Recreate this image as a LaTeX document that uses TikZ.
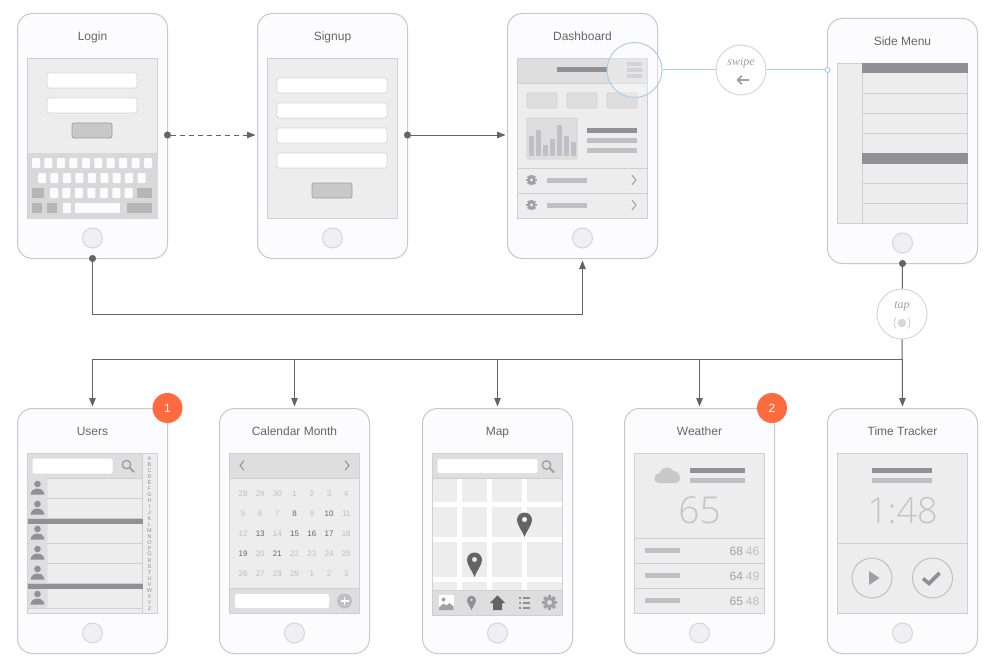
\documentclass[tikz,border=0pt]{standalone}
\usepackage{fontspec}
\usepackage{xcolor}
\usepackage{tikz}
\usetikzlibrary{arrows.meta}
\setmainfont{Liberation Sans}
\newfontfamily\notefont{Liberation Serif}
\newfontfamily\thinfont[UprightFont=* Light]{Open Sans}
\definecolor{phoneFill}{RGB}{252,252,254}
\definecolor{phoneLine}{RGB}{200,200,200}
\definecolor{homeFill}{RGB}{240,240,242}
\definecolor{homeLine}{RGB}{214,214,214}
\definecolor{screenFill}{RGB}{237,237,237}
\definecolor{screenLine}{RGB}{207,207,207}
\definecolor{headFill}{RGB}{222,222,222}
\definecolor{keyFill}{RGB}{216,216,216}
\definecolor{keyDark}{RGB}{182,182,182}
\definecolor{barDark}{RGB}{144,144,149}
\definecolor{barLight}{RGB}{192,192,196}
\definecolor{iconGray}{RGB}{160,160,164}
\definecolor{titleGray}{RGB}{102,102,102}
\definecolor{flowGray}{RGB}{100,100,100}
\definecolor{swipeBlue}{RGB}{172,205,230}
\definecolor{badgeOrange}{RGB}{255,107,63}
\definecolor{dayLight}{RGB}{190,190,190}
\definecolor{bigDigit}{RGB}{196,196,196}
\tikzset{
  phonebody/.style={draw=phoneLine,fill=phoneFill,line width=1pt,rounded corners=15pt,anchor=north west,
    minimum width=150pt,minimum height=245pt,inner sep=0pt,outer sep=0pt},
  phonetitle/.style={text=titleGray,anchor=base,font=\fontsize{12}{14}\selectfont,inner sep=0pt},
  homekey/.style={circle,draw=homeLine,fill=homeFill,line width=1pt,minimum size=20pt,inner sep=0pt},
  screenbase/.style={draw=screenLine,fill=screenFill,line width=1pt,anchor=north west,
    minimum width=130pt,minimum height=160pt,inner sep=0pt,outer sep=0pt},
  fieldbox/.style={fill=white,draw=homeLine,line width=.8pt,rounded corners=2pt},
  btnbox/.style={fill=phoneLine,draw=iconGray,line width=.8pt,rounded corners=2pt},
  softbox/.style={fill=headFill,draw=screenLine,line width=.8pt,rounded corners=1.5pt},
  rowline/.style={draw=screenLine,line width=1pt,shift={(.5,.5)}},
  flowline/.style={draw=flowGray,line width=1pt,-{Triangle[length=8.5pt,width=6.5pt]},shorten >=2pt},
  dotline/.style={draw=flowGray,line width=1pt,{Circle[length=7pt,width=7pt]}-{Triangle[length=8.5pt,width=6.5pt]},
    shorten <=-3.5pt,shorten >=2pt},
  swipeline/.style={draw=swipeBlue,line width=1pt},
  gesture/.style={circle,draw=homeLine,fill=white,line width=1pt,minimum size=50pt,inner sep=0pt},
  gesturetext/.style={text=iconGray,font=\notefont\itshape\fontsize{12}{14}\selectfont,inner sep=0pt},
  badge/.style={circle,fill=badgeOrange,text=white,minimum size=30pt,inner sep=0pt,font=\fontsize{12}{14}\selectfont},
  gearicon/.pic={
    \foreach \a in {0,45,...,315} {\fill[rotate=\a] (-1.2,3) rectangle (1.2,5.3);}
    \fill[even odd rule] (0,0) circle (4) circle (1.9);
  },
  chevicon/.pic={\draw[line width=1pt] (-2,-4.8) -- (2,0) -- (-2,4.8);},
  chevback/.pic={\draw[line width=1pt] (2,-4.8) -- (-2,0) -- (2,4.8);},
  searchicon/.pic={
    \draw[line width=1.4pt] (0,0) circle (4.2);
    \draw[line width=2pt] (3,3) -- (7.5,7.5);
  },
  personicon/.pic={
    \fill (0,-4) circle (3.3);
    \fill (-7,6.5) .. controls (-6,2) and (-3.5,.6) .. (0,.6) .. controls (3.5,.6) and (6,2) .. (7,6.5) -- cycle;
  },
  pinicon/.pic={
    \fill[even odd rule] (-7.5,0) .. controls (-7.5,-4.2) and (-4.2,-7.5) .. (0,-7.5)
      .. controls (4.2,-7.5) and (7.5,-4.2) .. (7.5,0)
      .. controls (7.5,5) and (2,11) .. (0,17) .. controls (-2,11) and (-7.5,5) .. (-7.5,0) -- cycle
      (0,-.5) circle (2.6);
  },
}

\begin{document}
\begin{tikzpicture}[x=1pt,y=-1pt]
\useasboundingbox (0,0) rectangle (997,669);

% phone bodies
\foreach \nm/\px/\py/\ttl in {login/17.5/13.5/Login,signup/257.5/13.5/Signup,dashboard/507.5/13.5/Dashboard,
  sidemenu/827.5/18.5/Side Menu,users/17.5/408.5/Users,calendar/219.5/408.5/Calendar Month,
  map/422.5/408.5/Map,weather/624.5/408.5/Weather,tracker/827.5/408.5/Time Tracker} {
  \node[phonebody] (\nm) at (\px,\py) {};
  \node[phonetitle] (\nm-title) at (\px+75,\py+27) {\ttl};
  \node[screenbase] (\nm-screen) at (\px+10,\py+45) {};
  \node[homekey] (\nm-home) at (\px+75,\py+224.5) {};
}

% login
\begin{scope}[shift={(27,58)}]
\draw[fieldbox] (20,15) rectangle (110,30);
\draw[fieldbox] (20,40) rectangle (110,55);
\draw[btnbox] (45,65) rectangle (85,80);
\fill[keyFill] (.5,95) rectangle (130.5,160.5);
\foreach \i in {0,...,9} {\fill[phoneFill,rounded corners=1pt] ({5+12.45*\i},100) rectangle ++(8,10);}
\foreach \i in {0,...,8} {\fill[phoneFill,rounded corners=1pt] ({11+12.45*\i},115) rectangle ++(8,10);}
\foreach \i in {0,...,6} {\fill[phoneFill,rounded corners=1pt] ({23+12.45*\i},130) rectangle ++(8,10);}
\fill[keyDark] (5,130) rectangle (17,140);
\fill[keyDark] (110,130) rectangle (125,140);
\fill[keyDark] (5,145) rectangle (15,155);
\fill[keyDark] (20,145) rectangle (30,155);
\fill[phoneFill] (36,145) rectangle (44,155);
\fill[phoneFill] (48,145) rectangle (93,155);
\fill[keyDark] (100,145) rectangle (125,155);
\end{scope}

% signup
\begin{scope}[shift={(267,58)}]
\foreach \y in {20,45,70,95} {\draw[fieldbox] (10,\y) rectangle (120,\y+15);}
\draw[btnbox] (45,125) rectangle (85,140);
\end{scope}

% dashboard
\begin{scope}[shift={(517,58)}]
\draw[rowline,fill=headFill] (0,0) rectangle (130,25);
\fill[barDark] (40,9.5) rectangle (90,14.5);
\foreach \y in {4.5,10.5,16.5} {\fill[barLight] (110,\y) rectangle (125,\y+3.5);}
\foreach \x in {10,50,90} {\draw[softbox] (\x,35) rectangle (\x+30,50);}
\draw[softbox] (10,60) rectangle (60,101);
\foreach \x/\y in {12/78,19/72,26/86.5,33/80.5,40/66.5,47/77.5,54/84} {\fill[barLight] (\x,\y) rectangle (\x+5,98);}
\fill[barDark] (70,69.5) rectangle (120,74.5);
\fill[barLight] (70,79.5) rectangle (120,84.5);
\fill[barLight] (70,89.5) rectangle (120,94.5);
\draw[rowline] (0,110) -- (130,110);
\draw[rowline] (0,135) -- (130,135);
\foreach \y in {122,147} {
  \pic[color=iconGray] at (14.5,\y) {gearicon};
  \fill[barLight] (30,\y-2.5) rectangle (70,\y+2.5);
  \pic[color=iconGray] at (117,\y) {chevicon};
}
\end{scope}

% side menu
\begin{scope}[shift={(837,63)}]
\draw[rowline] (25,0) -- (25,160);
\foreach \y in {30,50,70,120,140} {\draw[rowline] (25,\y) -- (130,\y);}
\fill[barDark] (25,0) rectangle (130.5,10.5);
\fill[barDark] (25,90) rectangle (130.5,100.5);
\end{scope}

% users
\begin{scope}[shift={(27,453)}]
\fill[headFill] (.5,.5) rectangle (115.5,25);
\draw[rowline] (0,25) -- (115,25);
\fill[white,rounded corners=1.5pt] (5.5,5.5) rectangle (85.5,20.5);
\pic[color=iconGray] at (99.5,11.5) {searchicon};
\draw[rowline] (115,0) -- (115,160);
\foreach \y in {25,45,70,90,110,135} {
  \fill[phoneLine!40!screenFill,rounded corners=1.5pt] (.5,\y) rectangle (20.5,\y+20);
  \pic[color=barDark] at (10.5,\y+10) {personicon};
  \draw[rowline] (0,\y+20) -- (115,\y+20);
}
\fill[barDark] (.5,65.5) rectangle (115.5,70.5);
\fill[barDark] (.5,130.5) rectangle (115.5,135.5);
\foreach \ltr [count=\ii from 0] in {A,...,Z} {
  \node[text=barDark,font=\fontsize{5.5}{6}\selectfont,inner sep=0pt] (idx-\ii) at (122.5,5.5+6*\ii) {\ltr};
}
\end{scope}

% calendar
\begin{scope}[shift={(229,453)}]
\draw[rowline,fill=headFill] (0,0) rectangle (130,25);
\pic[color=barDark] at (13,12.5) {chevback};
\pic[color=barDark] at (118,12.5) {chevicon};
\foreach \dd/\cc/\rw in {28/0/40,29/1/40,30/2/40,1/3/40,2/4/40,3/5/40,4/6/40,
  5/0/60,6/1/60,7/2/60,9/4/60,11/6/60,
  12/0/80,14/2/80,18/6/80,
  20/1/100,22/3/100,23/4/100,24/5/100,25/6/100,
  26/0/120,27/1/120,28/2/120,29/3/120,1/4/120,2/5/120,3/6/120} {
  \node[text=dayLight,font=\fontsize{8}{9}\selectfont,inner sep=0pt] (day-\rw-\cc) at (14+17.2*\cc,\rw+.5) {\dd};
}
\foreach \dd/\cc/\rw in {8/3/60,10/5/60,13/1/80,15/3/80,16/4/80,17/5/80,19/0/100,21/2/100} {
  \node[text=titleGray,font=\fontsize{8}{9}\selectfont,inner sep=0pt] (day-\rw-\cc) at (14+17.2*\cc,\rw+.5) {\dd};
}
\draw[rowline,fill=headFill] (0,135) rectangle (130,160);
\fill[white,rounded corners=1.5pt] (6,141) rectangle (100,155);
\fill[barLight] (115.5,148) circle (7.5);
\draw[white,line width=1.6pt] (111.5,148) -- (119.5,148);
\draw[white,line width=1.6pt] (115.5,144) -- (115.5,152);
\end{scope}

% map
\begin{scope}[shift={(432,453)}]
\draw[rowline,fill=headFill] (0,0) rectangle (130,25);
\fill[white,rounded corners=1.5pt] (5.5,6) rectangle (105.5,20);
\pic[color=iconGray] at (114.5,12) {searchicon};
\foreach \x in {25,55,90} {\fill[white] (\x,26) rectangle (\x+5,137);}
\foreach \y in {49,84,124} {\fill[white] (1,\y) rectangle (130,\y+5);}
\pic[color=flowGray] at (92.5,67) {pinicon};
\pic[color=flowGray] at (42.5,107) {pinicon};
\draw[rowline,fill=headFill] (0,137) rectangle (130,162);
\fill[white] (7,142) rectangle (21.5,157);
\fill[iconGray] (11.5,146.5) circle (2);
\fill[iconGray] (7,157) -- (7,154.5) -- (11.5,150.5) -- (14.5,152.5) -- (17.5,150) -- (21.5,153.5) -- (21.5,157) -- cycle;
\pic[scale=.6,color=barDark] at (39.5,147.2) {pinicon};
\fill[flowGray] (58,150) -- (65.5,142.3) -- (73,150) -- (70,150) -- (70,157) -- (61,157) -- (61,150) -- cycle;
\foreach \y in {144.5,149.5,154.5} {
  \fill[barDark] (86.5,\y-1) rectangle (88.5,\y+1);
  \fill[barDark] (90.5,\y-1) rectangle (97.5,\y+1);
}
\pic[scale=1.4,color=iconGray] at (117.5,149.5) {gearicon};
\end{scope}

% weather
\begin{scope}[shift={(634,453)}]
\fill[phoneLine,rounded corners=4pt] (20.5,20.5) rectangle (46,30);
\fill[phoneLine] (33,22) circle (7.5);
\fill[phoneLine] (26,25) circle (5);
\fill[phoneLine] (39.5,24) circle (6);
\fill[barDark] (55.5,15) rectangle (110.5,20);
\fill[barLight] (55.5,25) rectangle (110.5,30);
\node[text=bigDigit,font=\thinfont\fontsize{37}{40}\selectfont,inner sep=0pt] (temp-now) at (65.5,57.5) {65};
\foreach \y/\hi/\lo in {85/68/46,110/64/49,135/65/48} {
  \draw[rowline] (0,\y) -- (130,\y);
  \fill[barLight] (10.5,\y+10) rectangle (45.5,\y+15);
  \node[font=\fontsize{12}{14}\selectfont,anchor=east,inner sep=0pt] (temp-\hi) at (125.5,\y+13)
    {\textcolor{iconGray}{\hi}\hspace{3pt}\textcolor{dayLight}{\lo}};
}
\end{scope}

% time tracker
\begin{scope}[shift={(837,453)}]
\fill[barDark] (35,15) rectangle (95,20);
\fill[barLight] (35,25) rectangle (95,30);
\node[text=bigDigit,font=\thinfont\fontsize{36}{40}\selectfont,inner sep=0pt] (timer) at (65.5,58) {1:48};
\draw[rowline] (0,90) -- (130,90);
\draw[draw=barLight,line width=1pt] (35,125) circle (20);
\draw[draw=barLight,line width=1pt] (95.5,125) circle (20);
\fill[iconGray] (32,118) -- (42.5,125) -- (32,132) -- cycle;
\draw[draw=barDark,line width=3.6pt] (86,125.5) -- (92,130.5) -- (102.5,120);
\end{scope}

% swipe highlight and gesture bubbles
\node[circle,draw=swipeBlue,fill=white,fill opacity=.3,line width=1pt,minimum size=55pt,inner sep=0pt] (menuspot) at (634.5,70) {};
\node[gesture] (swipe) at (741,70) {};
\node[gesture] (tap) at (902,314) {};
\coordinate (sideport) at (sidemenu.west |- swipe);
\coordinate (busright) at (sidemenu.south |- 0,359);

% connectors
\draw[dotline,dash pattern=on 5pt off 4pt] (login.east |- 0,135) -- (signup.west |- 0,135);
\draw[dotline] (signup.east |- 0,135) -- (dashboard.west |- 0,135);
\draw[dotline] (login.south) -- ++(0,55.5) -| (dashboard.south);
\draw[swipeline] (menuspot) -- (swipe);
\draw[swipeline,-{Circle[open,fill=white,length=6pt,width=6pt]},shorten >=-3pt] (swipe) -- (sideport);
\draw[draw=flowGray,line width=1pt,{Circle[length=7pt,width=7pt]}-,shorten <=-3.5pt] (sidemenu.south) -- (tap);
\draw[flowline] (tap) -- (tracker.north);
\foreach \nm in {users,calendar,map,weather} {
  \draw[flowline] (busright) -| (\nm.north);
}

% bubble marks
\node[gesturetext] (swipe-word) at (741,63) {swipe};
\draw[draw=iconGray,line width=1.8pt,-{Straight Barb[length=4pt,width=8.5pt]}] (749,80) -- (736.5,80);
\node[gesturetext] (tap-word) at (902,306.5) {tap};
\fill[keyFill] (902,323) circle (4.3);
\draw[draw=phoneLine,line width=.7pt] (896,317.5) .. controls (893.5,321) and (893.5,325) .. (896,328.5);
\draw[draw=phoneLine,line width=.7pt] (908,317.5) .. controls (910.5,321) and (910.5,325) .. (908,328.5);

% badges
\node[badge] (badge-one) at (167.5,408) {1};
\node[badge] (badge-two) at (772,408) {2};
\end{tikzpicture}
\end{document}
